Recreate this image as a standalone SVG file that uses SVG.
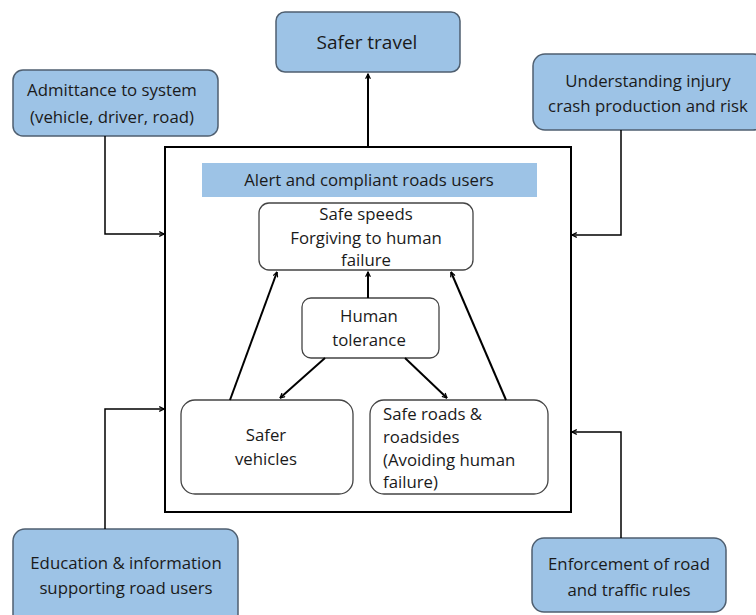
<svg xmlns="http://www.w3.org/2000/svg" width="756" height="615" viewBox="0 0 756 615">
<defs>
<style>
.blue{fill:#9dc3e6;stroke:#4f5f70;stroke-width:1.5}
.white{fill:#fff;stroke:#444;stroke-width:1.3}
.t{font-family:"Open Sans","Liberation Sans",sans-serif;font-size:16.8px;fill:#1a1a1a;text-anchor:middle}
.c{fill:none;stroke:#000;stroke-width:2;marker-end:url(#ah)}
.c1{fill:none;stroke:#000;stroke-width:1.5;marker-end:url(#ah)}
</style>
<marker id="ah" viewBox="0 0 10 10" refX="9" refY="5" markerWidth="6" markerHeight="6" orient="auto" markerUnits="userSpaceOnUse">
<path d="M1,1 L9,5 L1,9" fill="none" stroke="#000" stroke-width="2"/>
</marker>
</defs>
<rect width="756" height="615" fill="#fff"/>
<g id="main"><rect x="165" y="147" width="406" height="365" fill="#fff" stroke="#000" stroke-width="2"/></g>
<g id="banner"><rect x="202" y="163" width="335" height="34" fill="#9dc3e6"/><text class="t" x="369" y="186">Alert and compliant roads users</text></g>
<g id="safer-travel"><rect class="blue" x="276" y="12" width="184" height="60" rx="9"/><text class="t" x="367" y="49" style="font-size:19px">Safer travel</text></g>
<g id="admittance"><rect class="blue" x="13" y="70" width="205" height="66" rx="10"/><text class="t" x="112" y="96">Admittance to system</text><text class="t" x="112" y="123">(vehicle, driver, road)</text></g>
<g id="understanding"><rect class="blue" x="533" y="54" width="232" height="76" rx="12"/><text class="t" x="648" y="87">Understanding injury</text><text class="t" x="648" y="112">crash production and risk</text></g>
<g id="education"><rect class="blue" x="13" y="529" width="225" height="100" rx="12"/><text class="t" x="126" y="569">Education &amp; information</text><text class="t" x="126" y="594">supporting road users</text></g>
<g id="enforcement"><rect class="blue" x="532" y="538" width="194" height="74" rx="12"/><text class="t" x="629" y="570">Enforcement of road</text><text class="t" x="629" y="596">and traffic rules</text></g>
<g id="safe-speeds"><rect class="white" x="259" y="203" width="214" height="67" rx="10"/><text class="t" x="366" y="220">Safe speeds</text><text class="t" x="366" y="244">Forgiving to human</text><text class="t" x="366" y="266">failure</text></g>
<g id="human-tolerance"><rect class="white" x="302" y="298" width="137" height="60" rx="9"/><text class="t" x="369" y="322">Human</text><text class="t" x="369" y="346">tolerance</text></g>
<g id="safer-vehicles"><rect class="white" x="181" y="400" width="172" height="94" rx="14"/><text class="t" x="266" y="441">Safer</text><text class="t" x="266" y="465">vehicles</text></g>
<g id="safe-roads"><rect class="white" x="370" y="400" width="178" height="94" rx="14"/><text class="t" x="383" y="420" style="text-anchor:start">Safe roads &amp;</text><text class="t" x="383" y="443" style="text-anchor:start">roadsides</text><text class="t" x="383" y="466" style="text-anchor:start">(Avoiding human</text><text class="t" x="383" y="488" style="text-anchor:start">failure)</text></g>
<g id="connectors">
<path class="c" d="M368,147 L368,74"/>
<path class="c1" d="M105,136 L105,234 L164,234"/>
<path class="c1" d="M621,130 L621,235 L572,235"/>
<path class="c1" d="M105,529 L105,409 L164,409"/>
<path class="c1" d="M621,538 L621,432 L572,432"/>
<path class="c" d="M230,400 L277,272"/>
<path class="c" d="M368,298 L368,272"/>
<path class="c" d="M506,400 L451,272"/>
<path class="c" d="M325,358 L280,398"/>
<path class="c" d="M405,358 L447,398"/>
</g>
</svg>
